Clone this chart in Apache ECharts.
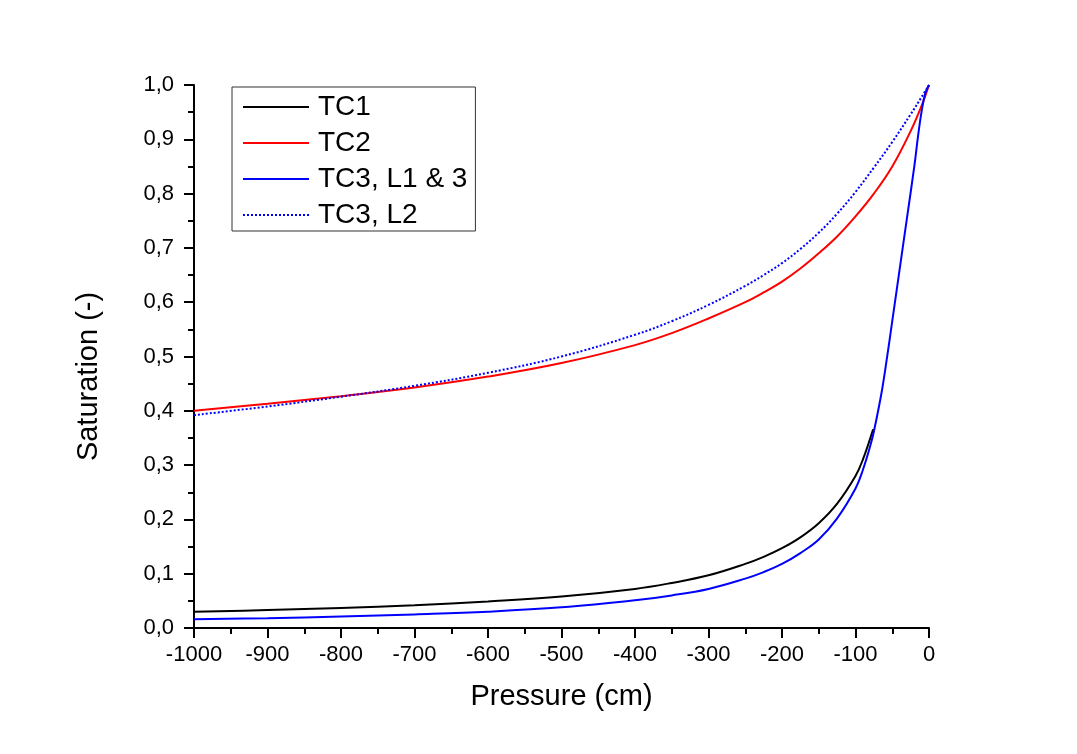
<!DOCTYPE html>
<html>
<head>
<meta charset="utf-8">
<script src="https://cdn.jsdelivr.net/npm/echarts@6/dist/echarts.min.js"></script>
<style>
html,body{margin:0;padding:0;background:#fff;}
#chart{width:1077px;height:754px;}
</style>
</head>
<body>
<div id="chart"></div>
<script>
// Series data: [pressure (cm), saturation (-)]
const tc1Pressure = [-1000, -900, -800, -700, -600, -500, -400, -350, -300, -250, -225, -200, -175, -150, -125, -100, -90, -76];
const tc1Sat      = [0.030, 0.033, 0.037, 0.042, 0.049, 0.058, 0.072, 0.083, 0.097, 0.118, 0.131, 0.147, 0.167, 0.193, 0.229, 0.280, 0.310, 0.366];

const tc2Pressure = [-1000, -900, -800, -700, -600, -500, -400, -350, -300, -250, -225, -200, -175, -150, -125, -100, -75, -50, -25, -10, 0];
const tc2Sat      = [0.400, 0.413, 0.427, 0.443, 0.463, 0.488, 0.521, 0.543, 0.570, 0.600, 0.618, 0.638, 0.662, 0.690, 0.721, 0.758, 0.800, 0.850, 0.915, 0.962, 1.000];

const tc3L13Pressure = [-1000, -900, -800, -700, -600, -500, -400, -350, -300, -250, -225, -200, -175, -150, -125, -100, -90, -80, -75, -65, -58, -50, -40, -30, -20, -15, -10, -5, 0];
const tc3L13Sat      = [0.016, 0.018, 0.021, 0.025, 0.030, 0.038, 0.051, 0.060, 0.072, 0.091, 0.103, 0.118, 0.138, 0.163, 0.202, 0.257, 0.291, 0.335, 0.362, 0.430, 0.490, 0.565, 0.660, 0.755, 0.850, 0.905, 0.952, 0.985, 1.000];

const tc3L2Pressure = [-1000, -900, -800, -700, -600, -500, -400, -350, -300, -250, -225, -200, -175, -150, -125, -100, -75, -50, -25, -10, 0];
const tc3L2Sat      = [0.392, 0.408, 0.426, 0.446, 0.470, 0.500, 0.540, 0.565, 0.595, 0.630, 0.650, 0.672, 0.698, 0.728, 0.763, 0.803, 0.848, 0.895, 0.946, 0.978, 1.000];

const seriesNames = ['TC1', 'TC2', 'TC3, L1 & 3', 'TC3, L2'];
const xTitle = 'Pressure (cm)';
const yTitle = 'Saturation (-)';

function pairs(xs, ys) { return xs.map((x, i) => [x, ys[i]]); }

const FONT = '"Liberation Sans", Arial, sans-serif';
const chart = echarts.init(document.getElementById('chart'), null, {renderer: 'canvas'});

function axisCommon() {
  return {
    axisLine: {show: true, onZero: false, lineStyle: {color: '#000', width: 2}},
    axisTick: {show: true, inside: false, length: 10, lineStyle: {color: '#000', width: 2}},
    minorTick: {show: true, splitNumber: 2, length: 6, lineStyle: {color: '#000', width: 2}},
    splitLine: {show: false},
    minorSplitLine: {show: false}
  };
}

function mkLine(name, data, color, type) {
  return {
    name: name, type: 'line', data: data,
    showSymbol: false, symbol: 'none',
    smooth: 0.4,
    lineStyle: {color: color, width: 2, type: type},
    itemStyle: {color: color},
    animation: false
  };
}

chart.setOption({
  backgroundColor: '#fff',
  animation: false,
  grid: {left: 194, right: 148, top: 85, bottom: 126, containLabel: false},
  xAxis: Object.assign({
    type: 'value', min: -1000, max: 0, interval: 100,
    name: xTitle, nameLocation: 'middle', nameGap: 54,
    nameTextStyle: {fontFamily: FONT, fontSize: 29, color: '#000'},
    axisLabel: {fontFamily: FONT, fontSize: 22, color: '#000', margin: 16,
      formatter: v => String(v)}
  }, axisCommon()),
  yAxis: Object.assign({
    type: 'value', min: 0, max: 1, interval: 0.1,
    name: yTitle, nameLocation: 'middle', nameGap: 91,
    nameTextStyle: {fontFamily: FONT, fontSize: 29, color: '#000', padding: [0, 40, 0, 0]},
    axisLabel: {fontFamily: FONT, fontSize: 22, color: '#000', margin: 20,
      formatter: v => v.toFixed(1).replace('.', ',')}
  }, axisCommon()),
  legend: {
    orient: 'vertical', left: 232, top: 87,
    padding: [6, 8, 2, 10],
    borderColor: '#333', borderWidth: 1,
    itemWidth: 66, itemHeight: 10, itemGap: 8,
    itemStyle: {opacity: 0},
    lineStyle: {width: 2},
    textStyle: {fontFamily: FONT, fontSize: 28, color: '#000', lineHeight: 26, padding: [0, 0, 0, 4]},
    data: seriesNames
  },
  series: [
    mkLine(seriesNames[0], pairs(tc1Pressure, tc1Sat), '#000000', 'solid'),
    mkLine(seriesNames[1], pairs(tc2Pressure, tc2Sat), '#ff0000', 'solid'),
    mkLine(seriesNames[2], pairs(tc3L13Pressure, tc3L13Sat), '#0000ff', 'solid'),
    mkLine(seriesNames[3], pairs(tc3L2Pressure, tc3L2Sat), '#0000ff', 'dotted')
  ]
});
</script>
</body>
</html>
